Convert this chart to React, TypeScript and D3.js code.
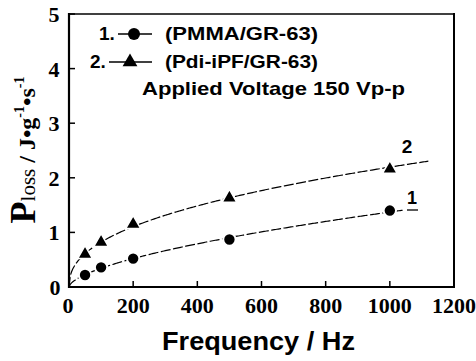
import React from "react";
import * as d3 from "d3";

const freqs = [50, 100, 200, 500, 1000];
const pmma = [0.22, 0.36, 0.52, 0.87, 1.4];
const pdi = [0.6, 0.82, 1.15, 1.63, 2.16];
const xTicks = [0, 200, 400, 600, 800, 1000, 1200];
const yTicks = [0, 1, 2, 3, 4, 5];

function powerFit(xs: number[], ys: number[]) {
  const lx = xs.map(Math.log);
  const ly = ys.map(Math.log);
  const mx = d3.mean(lx)!;
  const my = d3.mean(ly)!;
  const sxy = d3.sum(lx.map((v, i) => (v - mx) * (ly[i] - my)));
  const sxx = d3.sum(lx.map((v) => (v - mx) ** 2));
  const b = sxy / sxx;
  const a = Math.exp(my - b * mx);
  return (x: number) => a * Math.pow(x, b);
}

export default function App() {
  const W = 476, H = 361;
  const x = d3.scaleLinear().domain([0, 1200]).range([69, 454]);
  const y = d3.scaleLinear().domain([0, 5]).range([287, 14]);
  const f1 = powerFit(freqs, pmma);
  const f2 = powerFit(freqs, pdi);
  const line = d3.line<[number, number]>().x((d) => x(d[0])).y((d) => y(d[1]));
  const samples = (f: (v: number) => number, max: number) =>
    d3.range(0, max + 1, 4).map((v) => [v, v === 0 ? 0 : f(v)] as [number, number]);
  const tri = d3.symbol().type(d3.symbolTriangle).size(95)();
  const serif = "'Liberation Serif', 'Times New Roman', serif";
  const sans = "'Liberation Sans', Arial, sans-serif";

  return (
    <svg width={W} height={H} style={{ position: "absolute", left: 0, top: 0, background: "#fff" }}>
      <rect width={W} height={H} fill="#fff" />
      {/* curves */}
      <path d={line(samples(f1, 1040))!} fill="none" stroke="#000" strokeWidth={1.2} strokeDasharray="10,2.5" />
      <path d={line(samples(f2, 1120))!} fill="none" stroke="#000" strokeWidth={1.2} strokeDasharray="10,2.5" />
      {/* markers */}
      {freqs.map((f, i) => (
        <circle key={"c" + i} cx={x(f)} cy={y(pmma[i])} r={6.2} fill="#000" stroke="#fff" strokeWidth={2} />
      ))}
      {freqs.map((f, i) => (
        <path key={"t" + i} d={tri!} transform={`translate(${x(f)},${y(pdi[i])})`} fill="#000" stroke="#fff" strokeWidth={1.5} />
      ))}
      {/* frame */}
      <line x1={69} x2={69} y1={13} y2={288} stroke="#000" strokeWidth={2.2} />
      <line x1={68} x2={455} y1={287} y2={287} stroke="#000" strokeWidth={2.2} />
      <line x1={454} x2={454} y1={13} y2={288} stroke="#000" strokeWidth={2} />
      <line x1={69} x2={455} y1={14} y2={14} stroke="#000" strokeWidth={1.5} />
      {/* ticks */}
      {yTicks.map((t) => (
        <line key={"yt" + t} x1={69} x2={75} y1={y(t)} y2={y(t)} stroke="#000" strokeWidth={1.5} />
      ))}
      {xTicks.map((t) => (
        <line key={"xt" + t} x1={x(t)} x2={x(t)} y1={287} y2={281} stroke="#000" strokeWidth={1.5} />
      ))}
      {/* tick labels */}
      {yTicks.map((t) => (
        <text key={"yl" + t} x={t === 0 ? 55 : 54} y={y(t) + 8} textAnchor="middle" fontFamily={serif} fontWeight="bold" fontSize={22}>
          {t}
        </text>
      ))}
      {xTicks.map((t) => (
        <text key={"xl" + t} x={t === 0 ? x(t) - 1 : x(t)} y={313} textAnchor="middle" fontFamily={serif} fontWeight="bold" fontSize={22}>
          {t}
        </text>
      ))}
      {/* axis titles */}
      <text x={162} y={350} fontFamily={sans} fontWeight="bold" fontSize={25} textLength={193} lengthAdjust="spacingAndGlyphs">
        Frequency / Hz
      </text>
      <g transform="translate(35,150) rotate(-90)">
        <text x={0} y={0} textAnchor="middle" fontFamily={serif} fontWeight="bold" fontSize={24}>
          <tspan fontSize={36}>P</tspan>
          <tspan fontSize={21} fontWeight="normal">loss</tspan>
          <tspan> / J</tspan>
          <tspan>•</tspan>
          <tspan>g</tspan>
          <tspan fontSize={14} dy={-11}>-1</tspan>
          <tspan dy={11}>•</tspan>
          <tspan>s</tspan>
          <tspan fontSize={14} dy={-11}>-1</tspan>
        </text>
      </g>
      {/* legend */}
      <text x={99} y={40} fontFamily={sans} fontWeight="bold" fontSize={19}>1.</text>
      <line x1={118} x2={152} y1={34} y2={34} stroke="#000" strokeWidth={1.3} />
      <circle cx={134} cy={34} r={6} fill="#000" />
      <text x={165} y={40} fontFamily={sans} fontWeight="bold" fontSize={19} textLength={153} lengthAdjust="spacingAndGlyphs">(PMMA/GR-63)</text>
      <text x={90} y={68} fontFamily={sans} fontWeight="bold" fontSize={19}>2.</text>
      <line x1={109} x2={152} y1={62} y2={62} stroke="#000" strokeWidth={1.3} />
      <path d={tri!} transform="translate(130,62)" fill="#000" />
      <text x={165} y={68} fontFamily={sans} fontWeight="bold" fontSize={19} textLength={153} lengthAdjust="spacingAndGlyphs">(Pdi-iPF/GR-63)</text>
      <text x={142} y={95} fontFamily={sans} fontWeight="bold" fontSize={19} textLength={263} lengthAdjust="spacingAndGlyphs">Applied Voltage 150 Vp-p</text>
      {/* curve labels */}
      <text x={407} y={153} textAnchor="middle" fontFamily={sans} fontWeight="bold" fontSize={19}>2</text>
      <text x={412} y={204} textAnchor="middle" fontFamily={sans} fontWeight="bold" fontSize={18}>1</text>
      <line x1={407} x2={418} y1={210} y2={210} stroke="#000" strokeWidth={1.3} />
    </svg>
  );
}
